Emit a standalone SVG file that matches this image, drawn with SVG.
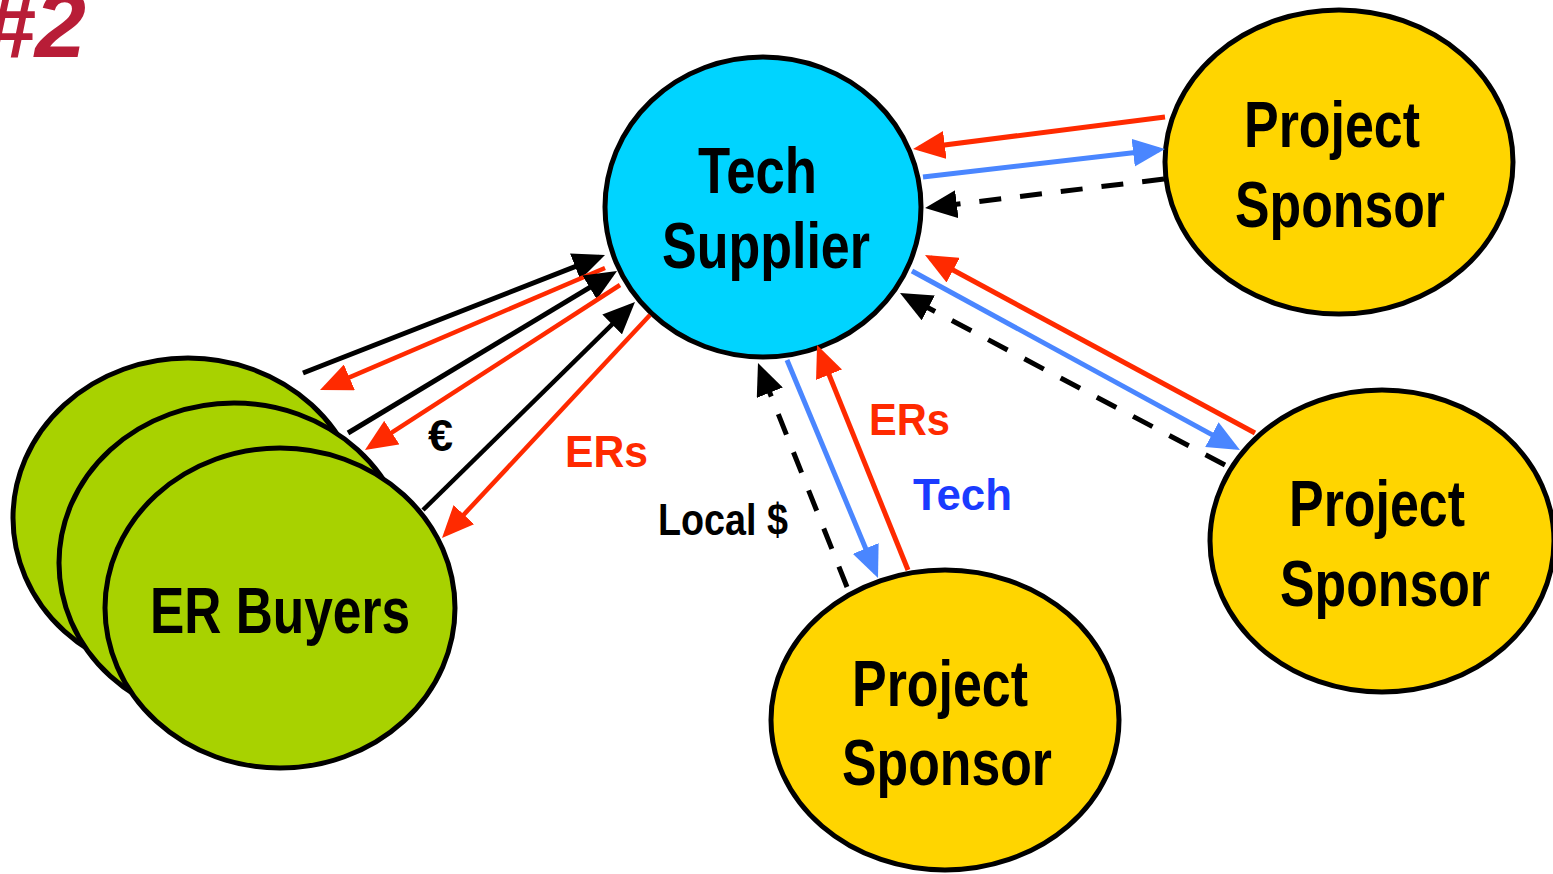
<svg xmlns="http://www.w3.org/2000/svg" width="1553" height="874" viewBox="0 0 1553 874">
  <style>
    .node { stroke: #000; stroke-width: 5; }
    .supplier { fill: #00D4FF; }
    .sponsor { fill: #FFD500; }
    .buyer { fill: #A8D200; }
    .big { font-family: "Liberation Sans", Arial, sans-serif; font-weight: bold; font-size: 64px; fill: #000; }
    .lbl { font-family: "Liberation Sans", Arial, sans-serif; font-weight: bold; font-size: 45px; }
    .c-black { stroke: #000; stroke-width: 5; fill: none; }
    .c-red { stroke: #FF2A00; stroke-width: 5; fill: none; }
    .c-blue { stroke: #4A86FF; stroke-width: 5; fill: none; }
    .thin { stroke-width: 4.5; }
    .dash { stroke-dasharray: 22 19; }
  </style>
  <defs>
    <marker id="ahBlack" viewBox="0 0 32 28" refX="26" refY="14" markerWidth="32" markerHeight="28" markerUnits="userSpaceOnUse" orient="auto">
      <path d="M0,0 L32,14 L0,28 z" fill="#000"/>
    </marker>
    <marker id="ahRed" viewBox="0 0 32 28" refX="26" refY="14" markerWidth="32" markerHeight="28" markerUnits="userSpaceOnUse" orient="auto">
      <path d="M0,0 L32,14 L0,28 z" fill="#FF2A00"/>
    </marker>
    <marker id="ahBlue" viewBox="0 0 32 28" refX="26" refY="14" markerWidth="32" markerHeight="28" markerUnits="userSpaceOnUse" orient="auto">
      <path d="M0,0 L32,14 L0,28 z" fill="#4A86FF"/>
    </marker>
  </defs>

  <rect width="1553" height="874" fill="#fff"/>

  <!-- slide number, bleeding off the top-left corner -->
  <text x="86" y="57" text-anchor="end" font-family="Liberation Sans, Arial, sans-serif" font-weight="bold" font-style="italic" font-size="92" fill="#B81D37">#2</text>

  <!-- buyers stack -->
  <g id="er-buyers">
    <ellipse class="node buyer" cx="188" cy="518" rx="175" ry="160"/>
    <ellipse class="node buyer" cx="234" cy="563" rx="175" ry="160"/>
    <ellipse class="node buyer" cx="280" cy="608" rx="175" ry="160"/>
    <text class="big" x="280" y="633" text-anchor="middle" textLength="260" lengthAdjust="spacingAndGlyphs">ER Buyers</text>
  </g>

  <g id="tech-supplier">
    <ellipse class="node supplier" cx="763" cy="207" rx="158" ry="150"/>
    <text class="big" x="757.5" y="193" text-anchor="middle" textLength="119" lengthAdjust="spacingAndGlyphs">Tech</text>
    <text class="big" x="766" y="268" text-anchor="middle" textLength="208" lengthAdjust="spacingAndGlyphs">Supplier</text>
  </g>

  <g id="sponsor-top">
    <ellipse class="node sponsor" cx="1339" cy="162" rx="174" ry="152"/>
    <text class="big" x="1332" y="147" text-anchor="middle" textLength="176" lengthAdjust="spacingAndGlyphs">Project</text>
    <text class="big" x="1340" y="227" text-anchor="middle" textLength="210" lengthAdjust="spacingAndGlyphs">Sponsor</text>
  </g>

  <g id="sponsor-right">
    <ellipse class="node sponsor" cx="1382" cy="541" rx="172" ry="151"/>
    <text class="big" x="1377" y="526" text-anchor="middle" textLength="176" lengthAdjust="spacingAndGlyphs">Project</text>
    <text class="big" x="1385" y="606" text-anchor="middle" textLength="210" lengthAdjust="spacingAndGlyphs">Sponsor</text>
  </g>

  <g id="sponsor-bottom">
    <ellipse class="node sponsor" cx="945" cy="720" rx="174" ry="150"/>
    <text class="big" x="940" y="706" text-anchor="middle" textLength="176" lengthAdjust="spacingAndGlyphs">Project</text>
    <text class="big" x="947" y="785" text-anchor="middle" textLength="210" lengthAdjust="spacingAndGlyphs">Sponsor</text>
  </g>

  <g id="connectors">
    <!-- buyers <-> supplier -->
    <line class="c-black" x1="303" y1="373" x2="599.4" y2="257.2" marker-end="url(#ahBlack)"/>
    <line class="c-red thin" x1="605" y1="268" x2="325.5" y2="387.6" marker-end="url(#ahRed)"/>
    <line class="c-black" x1="348" y1="433" x2="611.9" y2="274.1" marker-end="url(#ahBlack)"/>
    <line class="c-red thin" x1="620" y1="285" x2="370" y2="446.7" marker-end="url(#ahRed)"/>
    <line class="c-black thin" x1="423" y1="510" x2="630.7" y2="306.2" marker-end="url(#ahBlack)"/>
    <line class="c-red thin" x1="650" y1="315" x2="446.1" y2="533.6" marker-end="url(#ahRed)"/>

    <!-- top sponsor <-> supplier -->
    <line class="c-red" x1="1165" y1="117" x2="919" y2="148.2" marker-end="url(#ahRed)"/>
    <line class="c-blue" x1="923" y1="177" x2="1159" y2="149.7" marker-end="url(#ahBlue)"/>
    <line class="c-black dash" x1="1164" y1="179" x2="931" y2="207.3" marker-end="url(#ahBlack)"/>

    <!-- right sponsor <-> supplier -->
    <line class="c-red" x1="1255" y1="433" x2="930.3" y2="257.8" marker-end="url(#ahRed)"/>
    <line class="c-blue" x1="912" y1="271" x2="1234.7" y2="447.1" marker-end="url(#ahBlue)"/>
    <line class="c-black dash" x1="1225" y1="465" x2="905.3" y2="295.8" marker-end="url(#ahBlack)"/>

    <!-- bottom sponsor <-> supplier -->
    <line class="c-black dash" x1="847" y1="587" x2="760.2" y2="368.6" marker-end="url(#ahBlack)"/>
    <line class="c-blue" x1="787" y1="360" x2="875.7" y2="572.5" marker-end="url(#ahBlue)"/>
    <line class="c-red" x1="908" y1="570" x2="819.3" y2="350.6" marker-end="url(#ahRed)"/>
  </g>

  <g id="labels">
    <text class="lbl" x="428" y="451" fill="#000" font-size="40">€</text>
    <text class="lbl" x="565" y="467" fill="#FF2A00" textLength="83" lengthAdjust="spacingAndGlyphs">ERs</text>
    <text class="lbl" x="658" y="535" fill="#000" textLength="130" lengthAdjust="spacingAndGlyphs">Local $</text>
    <text class="lbl" x="869" y="435" fill="#FF2A00" textLength="81" lengthAdjust="spacingAndGlyphs">ERs</text>
    <text class="lbl" x="913" y="510" fill="#1A3BFF" textLength="99" lengthAdjust="spacingAndGlyphs">Tech</text>
  </g>
</svg>
